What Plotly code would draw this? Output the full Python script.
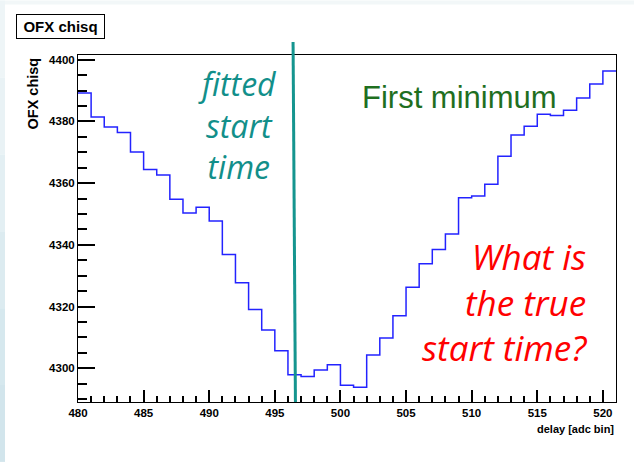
import plotly.graph_objects as go

# OFX chi-square versus trial start delay, one value per adc bin
delay_bins = list(range(480, 521))
chisq = [
    4389.2, 4381.4, 4378.2, 4376.4, 4370.1, 4364.4, 4362.6, 4354.8, 4350.3, 4352.2,
    4347.7, 4336.9, 4327.7, 4319.1, 4312.4, 4305.7, 4297.9, 4297.4, 4299.5, 4301.2,
    4294.5, 4293.9, 4304.3, 4309.8, 4317.0, 4326.3, 4333.9, 4338.5, 4343.5, 4355.3,
    4355.8, 4359.6, 4368.7, 4375.6, 4378.4, 4382.3, 4381.9, 4383.6, 4387.6, 4392.1,
    4396.3,
]
bin_width = 1
fitted_start = [496.39, 496.57]   # fitted start time line (top, bottom)

x_ticks = [480, 485, 490, 495, 500, 505, 510, 515, 520]
y_ticks = [4300, 4320, 4340, 4360, 4380, 4400]
x_range = [480, 521]
y_range = [4289.1, 4401.5]

W, H = 634, 462
ML, MR, MT, MB = 78, 18, 54.5, 60
PW, PH = W - ML - MR, H - MT - MB


def px_x(p):
    return (p - ML) / PW


def px_y(p):
    return (H - MB - p) / PH


# histogram outline: step through bin edges
edges = delay_bins + [delay_bins[-1] + bin_width]
levels = chisq + [chisq[-1]]

fig = go.Figure()
fig.add_trace(go.Scatter(
    x=edges, y=levels, mode="lines", line_shape="hv",
    line=dict(color="#2323ff", width=1.5), hoverinfo="skip", showlegend=False,
))

sans = "Liberation Sans, Arial, sans-serif"
humanist = "Open Sans, Lato, sans-serif"

axis_common = dict(
    showline=True, linecolor="black", linewidth=1, mirror=True,
    ticks="inside", tickcolor="black", tickwidth=1.5,
    showgrid=False, zeroline=False,
    tickfont=dict(family=sans, size=11.5, color="black", weight="bold"),
)

fig.update_xaxes(
    range=x_range, tickvals=x_ticks, ticklen=12,
    minor=dict(dtick=1, tick0=480, ticklen=6, ticks="inside", tickcolor="black", tickwidth=1.5),
    **axis_common,
)
fig.update_yaxes(
    range=y_range, tickvals=y_ticks, ticklen=17,
    minor=dict(dtick=5, tick0=4300, ticklen=8.5, ticks="inside", tickcolor="black", tickwidth=1.5),
    **axis_common,
)

shapes = []
# slide background strips along the top and left edges
shapes.append(dict(type="rect", xref="paper", yref="paper",
                   x0=px_x(0), x1=px_x(W), y0=px_y(4), y1=px_y(0),
                   fillcolor="#f2f7f8", line_width=0, layer="below"))
strip_cols = ["#eef5f7", "#e9f2f5", "#e3eff3", "#dcebf0", "#d6e8ee", "#d2e5ec"]
n = len(strip_cols)
for i, c in enumerate(strip_cols):
    shapes.append(dict(type="rect", xref="paper", yref="paper",
                       x0=px_x(0), x1=px_x(5),
                       y0=px_y(H * (i + 1) / n), y1=px_y(H * i / n),
                       fillcolor=c, line_width=0, layer="below"))
# fitted start time marker
shapes.append(dict(type="line", xref="x", yref="paper",
                   x0=fitted_start[0], x1=fitted_start[1],
                   y0=px_y(41.5), y1=0,
                   line=dict(color="#15958f", width=3)))
fig.update_layout(shapes=shapes)

ann = []
# histogram title box
ann.append(dict(text="OFX chisq", xref="paper", yref="paper",
                x=px_x(16), y=px_y(13), xanchor="left", yanchor="top",
                showarrow=False, bgcolor="white", bordercolor="black",
                borderwidth=1, borderpad=0, width=87, height=23,
                font=dict(family=sans, size=15, color="black", weight="bold")))
# axis titles
ann.append(dict(text="OFX chisq", xref="paper", yref="paper",
                x=px_x(33), y=px_y(55), xanchor="center", yanchor="top",
                textangle=-90, showarrow=False,
                font=dict(family=sans, size=14.5, color="black", weight="bold")))
ann.append(dict(text="delay [adc bin]", xref="paper", yref="paper",
                x=px_x(616), y=px_y(429), xanchor="right", yanchor="middle",
                showarrow=False,
                font=dict(family=sans, size=11, color="black", weight="bold")))
# teal label next to the fitted start line
ann.append(dict(text="fitted<br>start<br>time", xref="paper", yref="paper",
                x=px_x(237), y=px_y(125), xanchor="center", yanchor="middle",
                align="center", showarrow=False,
                font=dict(family=humanist, size=32, color="#128f8a", style="italic")))
# green label
ann.append(dict(text="First minimum", xref="paper", yref="paper",
                x=px_x(360), y=px_y(97), xanchor="left", yanchor="middle",
                showarrow=False,
                font=dict(family=sans, size=31, color="#1f6f1f")))
# red question
ann.append(dict(text="What is<br>the true<br>start time?", xref="paper", yref="paper",
                x=px_x(589), y=px_y(302), xanchor="right", yanchor="middle",
                align="right", showarrow=False,
                font=dict(family=humanist, size=35, color="#ff0000", style="italic")))
fig.update_layout(annotations=ann)

fig.update_layout(
    width=W, height=H,
    margin=dict(l=ML, r=MR, t=MT, b=MB, pad=0),
    paper_bgcolor="white", plot_bgcolor="white",
    showlegend=False,
)

fig.write_html("out.html")
